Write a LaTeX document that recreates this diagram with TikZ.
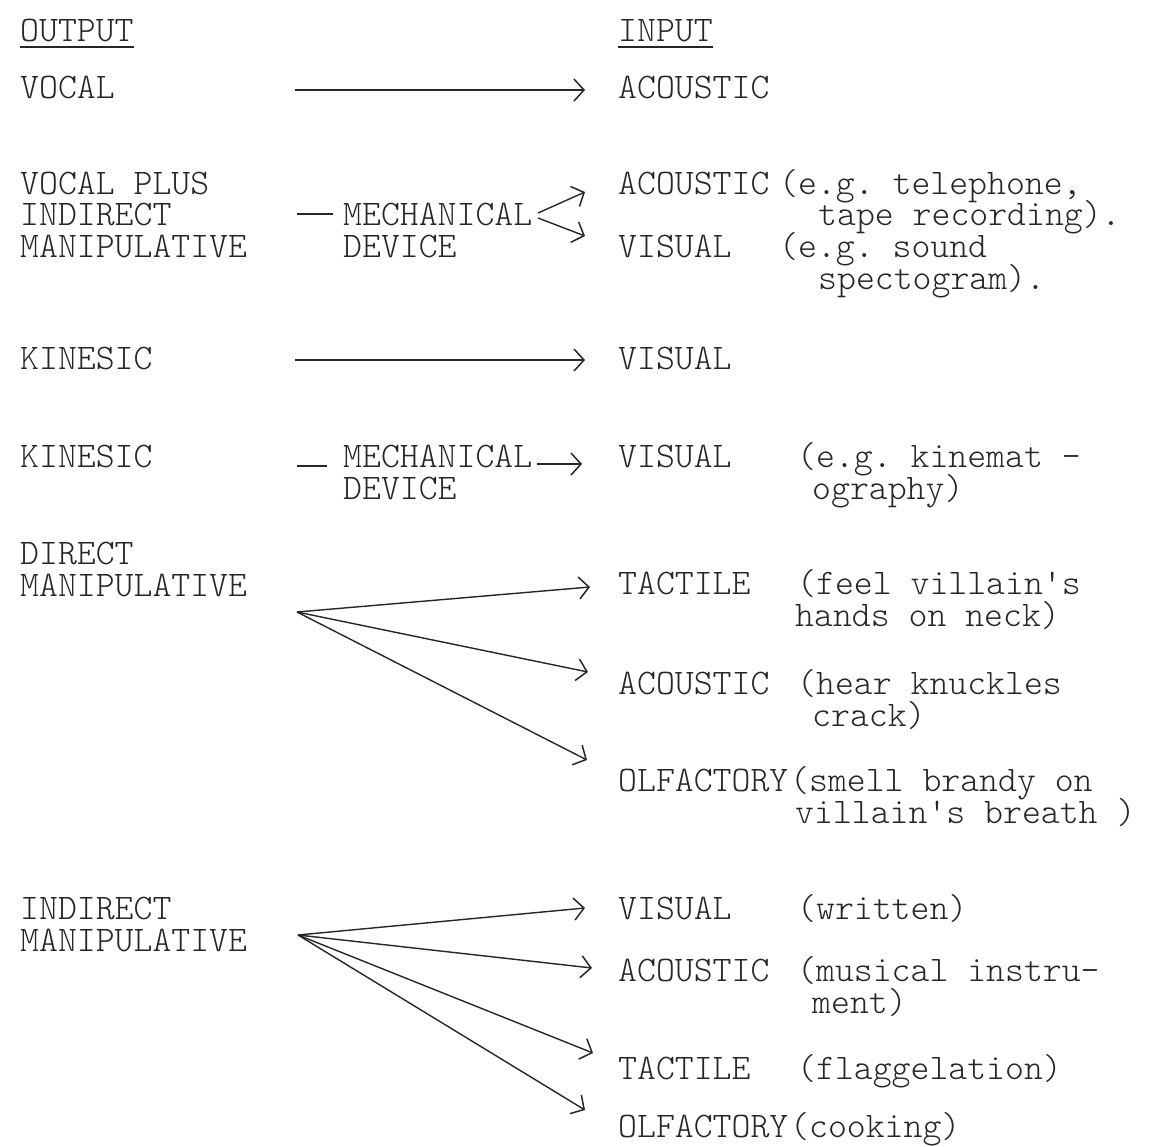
\documentclass[tikz,border=0pt]{standalone}
\usepackage{fontspec}
\setmonofont{Latin Modern Mono Light}
\usetikzlibrary{arrows.meta}
\definecolor{ink}{HTML}{262626}
\begin{document}
\begin{tikzpicture}[x=1pt,y=-1pt,
  txt/.style={anchor=base west, inner sep=0pt, text height=23pt, text depth=7pt, text=ink, font=\ttfamily\fontsize{36}{40}\selectfont},
  conn/.style={draw=ink, line width=1.4pt, -{Straight Barb[length=10pt,width=22pt,line width=1.5pt]}},
  plainline/.style={draw=ink, line width=1.6pt}]
\useasboundingbox[fill=white] (0,0) rectangle (1151,1146);

% headings
\node[txt] (out) at (20,41) {OUTPUT};
\node[txt] (in) at (618,41) {INPUT};
\draw[plainline, line width=2.2pt] ([yshift=-6pt]out.base west) -- ([yshift=-6pt]out.base east);
\draw[plainline, line width=2.2pt] ([yshift=-6pt]in.base west) -- ([yshift=-6pt]in.base east);

% row 1
\node[txt] (vocal) at (20,98) {VOCAL};
\node[txt] (ac1) at (618,98) {ACOUSTIC};
\coordinate (s1) at (295,90);
\coordinate (t1) at (585,90);
\draw[conn] (s1) -- (t1);

% row 2
\node[txt] (vp1) at (20,194) {VOCAL PLUS};
\node[txt] (vp2) at (20,225) {INDIRECT};
\node[txt] (vp3) at (20,257) {MANIPULATIVE};
\node[txt] (mech1) at (343,225) {MECHANICAL};
\node[txt] (dev1) at (343,257) {DEVICE};
\draw[plainline] ([xshift=-46pt,yshift=11pt]mech1.base west) -- ([xshift=-10pt,yshift=11pt]mech1.base west);
\node[txt] (ac2) at (618,194) {ACOUSTIC};
\node[txt] (ac2n) at (779,194) {(e.g. telephone,};
\node[txt] (ac2m) at (818,225) {tape recording).};
\node[txt] (vi2) at (618,257) {VISUAL};
\node[txt] (vi2n) at (779,257) {(e.g. sound};
\node[txt] (vi2m) at (818,289) {spectogram).};
\coordinate (m1a) at (538,213);
\coordinate (m1b) at (538,218);
\coordinate (t2a) at (585,192);
\coordinate (t2b) at (585,236);
\draw[conn] (m1a) -- (t2a);
\draw[conn] (m1b) -- (t2b);

% row 3
\node[txt] (kin1) at (20,369) {KINESIC};
\node[txt] (vi3) at (618,369) {VISUAL};
\coordinate (s3) at (295,360);
\coordinate (t3) at (585,360);
\draw[conn] (s3) -- (t3);

% row 4
\node[txt] (kin2) at (20,467) {KINESIC};
\node[txt] (mech2) at (343,467) {MECHANICAL};
\node[txt] (dev2) at (343,499) {DEVICE};
\draw[plainline] ([xshift=-46pt,yshift=1pt]mech2.base west) -- ([xshift=-16pt,yshift=1pt]mech2.base west);
\node[txt] (vi4) at (618,467) {VISUAL};
\node[txt] (vi4n) at (797,467) {(e.g. kinemat -};
\node[txt] (vi4m) at (812,499) {ography)};
\coordinate (m2) at (537,464);
\coordinate (t4) at (582,464);
\draw[conn] (m2) -- (t4);

% row 5: direct manipulative
\node[txt] (dm1) at (20,564) {DIRECT};
\node[txt] (dm2) at (20,596) {MANIPULATIVE};
\coordinate (dm) at (297,612);
\node[txt] (ta5) at (618,594) {TACTILE};
\node[txt] (ta5n) at (797,594) {(feel villain's};
\node[txt] (ta5m) at (795,626) {hands on neck)};
\node[txt] (ac5) at (618,694) {ACOUSTIC};
\node[txt] (ac5n) at (797,694) {(hear knuckles};
\node[txt] (ac5m) at (812,726) {crack)};
\node[txt] (ol5) at (618,791) {OLFACTORY};
\node[txt] (ol5n) at (790,791) {(smell brandy on};
\node[txt] (ol5m) at (795,823) {villain's breath )};
\coordinate (t5a) at (590,587);
\coordinate (t5b) at (588,672);
\coordinate (t5c) at (587,760);
\draw[conn] (dm) -- (t5a);
\draw[conn] (dm) -- (t5b);
\draw[conn] (dm) -- (t5c);

% row 6: indirect manipulative
\node[txt] (im1) at (20,919) {INDIRECT};
\node[txt] (im2) at (20,951) {MANIPULATIVE};
\coordinate (im) at (298,935);
\node[txt] (vi6) at (618,919) {VISUAL};
\node[txt] (vi6n) at (797,919) {(written)};
\node[txt] (ac6) at (618,981) {ACOUSTIC};
\node[txt] (ac6n) at (797,981) {(musical instru-};
\node[txt] (ac6m) at (812,1013) {ment)};
\node[txt] (ta6) at (618,1079) {TACTILE};
\node[txt] (ta6n) at (797,1079) {(flaggelation)};
\node[txt] (ol6) at (618,1137) {OLFACTORY};
\node[txt] (ol6n) at (790,1137) {(cooking)};
\coordinate (t6a) at (585,908);
\coordinate (t6b) at (592,968);
\coordinate (t6c) at (593,1053);
\coordinate (t6d) at (585,1110);
\draw[conn] (im) -- (t6a);
\draw[conn] (im) -- (t6b);
\draw[conn] (im) -- (t6c);
\draw[conn] (im) -- (t6d);
\end{tikzpicture}
\end{document}
